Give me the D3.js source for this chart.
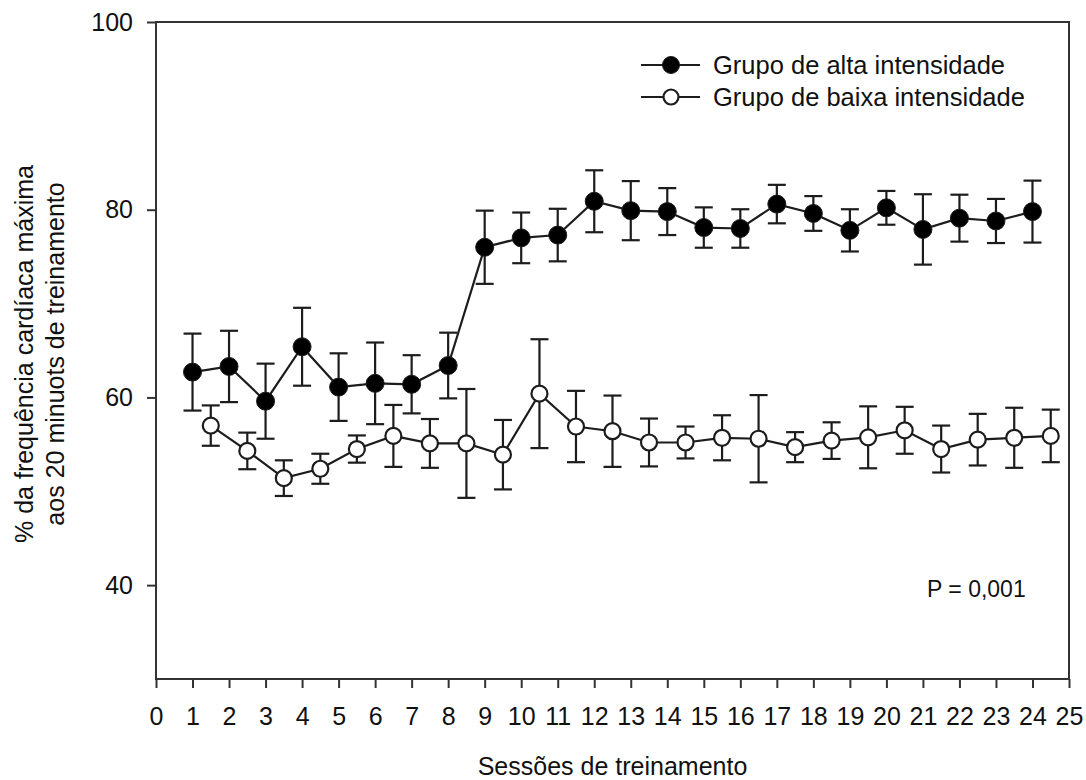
<!DOCTYPE html>
<html>
<head>
<meta charset="utf-8">
<script src="https://cdn.jsdelivr.net/npm/d3@7"></script>
<style>
    body {margin: 0; background: #fff;}
    text {font-family: "Liberation Sans", Arial, sans-serif; fill: #111;}
</style>
</head>
<body>
<div id="chart"></div>
<script>

// data
const sessions = d3.range(1, 25);
const xTicks = d3.range(0, 26);
const yTicks = [40, 60, 80, 100];

const highMean = [62.7, 63.3, 59.6, 65.4, 61.1, 61.5, 61.4, 63.4, 76.0, 77.0, 77.3, 80.9,
    79.9, 79.8, 78.1, 78.0, 80.6, 79.6, 77.8, 80.2, 77.9, 79.1, 78.8, 79.8];
const highErr = [4.1, 3.8, 4.0, 4.15, 3.6, 4.35, 3.1, 3.5, 3.9, 2.7, 2.8, 3.3,
    3.15, 2.5, 2.15, 2.05, 2.05, 1.85, 2.25, 1.8, 3.75, 2.5, 2.35, 3.3];

const lowMean = [57.0, 54.3, 51.4, 52.4, 54.5, 55.9, 55.1, 55.1, 53.9, 60.4, 56.9, 56.4,
    55.2, 55.2, 55.7, 55.6, 54.7, 55.4, 55.75, 56.5, 54.5, 55.5, 55.7, 55.9];
const lowErr = [2.15, 1.95, 1.9, 1.6, 1.45, 3.3, 2.6, 5.8, 3.7, 5.8, 3.8, 3.8,
    2.55, 1.7, 2.4, 4.65, 1.6, 1.95, 3.3, 2.5, 2.5, 2.75, 3.2, 2.8];

const seriesNames = ["Grupo de alta intensidade", "Grupo de baixa intensidade"];

//SVG
const width = 1086;
const height = 780;
const margin = {t: 22, b: 101, l: 156, r: 17};
const svg = d3.select("#chart")
    .append("svg")
    .attr("width", width)
    .attr("height", height);

const ink = "#1c1c1c";

//xScale
const xScale = d3.scaleLinear()
    .domain([0, 25])
    .range([margin.l, width - margin.r]);

//yScale
const yScale = d3.scaleLinear()
    .domain([30, 100])
    .range([height - margin.b, margin.t]);

const highData = sessions.map((s, i) => ({x: s, m: highMean[i], e: highErr[i]}));
const lowData = sessions.map((s, i) => ({x: s + 0.5, m: lowMean[i], e: lowErr[i]}));

//X axis
const x_axis = d3.axisBottom(xScale)
    .tickValues(xTicks)
    .tickFormat(d3.format("d"))
    .tickSize(9)
    .tickSizeOuter(0)
    .tickPadding(19);
const gx = svg.append("g")
    .attr("transform", `translate(0, ${height - margin.b})`)
    .call(x_axis);
gx.select(".domain").remove();
gx.selectAll("line").attr("stroke", "#333").attr("stroke-width", 2);
gx.selectAll("text").attr("font-size", "25px").attr("fill", ink);

//Y axis
const y_axis = d3.axisLeft(yScale)
    .tickValues(yTicks)
    .tickSize(9)
    .tickSizeOuter(0)
    .tickPadding(14);
const gy = svg.append("g")
    .attr("transform", `translate(${margin.l}, 0)`)
    .call(y_axis);
gy.select(".domain").remove();
gy.selectAll("line").attr("stroke", "#333").attr("stroke-width", 2);
gy.selectAll("text").attr("font-size", "25px").attr("fill", ink);

//frame
svg.append("rect")
    .attr("x", xScale(0))
    .attr("y", yScale(100))
    .attr("width", xScale(25) - xScale(0))
    .attr("height", yScale(30) - yScale(100))
    .attr("fill", "none")
    .attr("stroke", "#333")
    .attr("stroke-width", 2);

//axis titles
svg.append("text")
    .attr("x", (xScale(0) + xScale(25)) / 2)
    .attr("y", 775)
    .attr("text-anchor", "middle")
    .attr("font-size", "25px")
    .text("Sessões de treinamento");

const yTitle = svg.append("text")
    .attr("transform", "translate(33, 354) rotate(-90)")
    .attr("text-anchor", "middle")
    .attr("font-size", "25px");
yTitle.append("tspan")
    .attr("x", 0)
    .attr("y", 0)
    .text("% da frequência cardíaca máxima");
yTitle.append("tspan")
    .attr("x", 0)
    .attr("y", 31)
    .text("aos 20 minuots de treinamento");

const makeLine = d3.line()
    .x(d => xScale(d.x))
    .y(d => yScale(d.m));

function drawSeries(data, filled) {
    const g = svg.append("g");
    // error bars
    const bars = g.selectAll(".err")
        .data(data)
        .enter()
        .append("g");
    bars.append("line")
        .attr("x1", d => xScale(d.x))
        .attr("x2", d => xScale(d.x))
        .attr("y1", d => yScale(d.m - d.e))
        .attr("y2", d => yScale(d.m + d.e))
        .attr("stroke", ink)
        .attr("stroke-width", 2.2);
    bars.append("line")
        .attr("x1", d => xScale(d.x) - 9)
        .attr("x2", d => xScale(d.x) + 9)
        .attr("y1", d => yScale(d.m + d.e))
        .attr("y2", d => yScale(d.m + d.e))
        .attr("stroke", ink)
        .attr("stroke-width", 2.2);
    bars.append("line")
        .attr("x1", d => xScale(d.x) - 9)
        .attr("x2", d => xScale(d.x) + 9)
        .attr("y1", d => yScale(d.m - d.e))
        .attr("y2", d => yScale(d.m - d.e))
        .attr("stroke", ink)
        .attr("stroke-width", 2.2);
    // line
    g.append("path")
        .attr("fill", "none")
        .attr("stroke", ink)
        .attr("stroke-width", 2.2)
        .attr("d", makeLine(data));
    // markers
    g.selectAll("circle")
        .data(data)
        .enter()
        .append("circle")
        .attr("cx", d => xScale(d.x))
        .attr("cy", d => yScale(d.m))
        .attr("r", filled ? 9 : 8)
        .attr("fill", filled ? "#000" : "#fff")
        .attr("stroke", ink)
        .attr("stroke-width", filled ? 1 : 2.2);
}

drawSeries(highData, true);
drawSeries(lowData, false);

//Legend
seriesNames.forEach((name, i) => {
    const ly = 65 + i * 32;
    svg.append("line")
        .attr("x1", 641)
        .attr("x2", 700)
        .attr("y1", ly)
        .attr("y2", ly)
        .attr("stroke", ink)
        .attr("stroke-width", 2.2);
    svg.append("circle")
        .attr("cx", 671)
        .attr("cy", ly)
        .attr("r", i === 0 ? 8.5 : 7.5)
        .attr("fill", i === 0 ? "#000" : "#fff")
        .attr("stroke", ink)
        .attr("stroke-width", i === 0 ? 1 : 2.2);
    svg.append("text")
        .attr("x", 713)
        .attr("y", ly)
        .attr("dy", "0.35em")
        .attr("font-size", "25.5px")
        .text(name);
});

svg.append("text")
    .attr("x", 927)
    .attr("y", 597)
    .attr("font-size", "23px")
    .text("P = 0,001");

</script>
</body>
</html>
